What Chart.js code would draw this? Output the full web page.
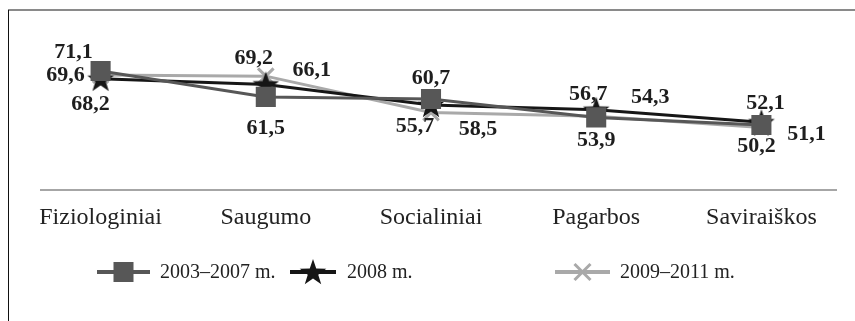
<!DOCTYPE html>
<html>
<head>
<meta charset="utf-8">
<script src="https://cdn.jsdelivr.net/npm/chart.js@4/dist/chart.umd.min.js"></script>
<style>
  html, body { margin: 0; padding: 0; background: #fff; }
  #wrap { position: relative; width: 855px; height: 321px; }
</style>
</head>
<body>
<div id="wrap"><canvas id="c" width="855" height="321"></canvas></div>
<script>
// Poreikių grupės (x ašis)
const categories = ['Fiziologiniai', 'Saugumo', 'Socialiniai', 'Pagarbos', 'Saviraiškos'];
// Laikotarpiai
const seriesNames = ['2003–2007 m.', '2008 m.', '2009–2011 m.'];
// Reikšmės pagal laikotarpį
const values2003to2007 = [71.1, 61.5, 60.7, 53.9, 51.1];
const values2008 = [68.2, 66.1, 58.5, 56.7, 52.1];
const values2009to2011 = [69.6, 69.2, 55.7, 54.3, 50.2];

// Reikšmių etikečių poslinkiai nuo taško (dx, dy)
const labelOffsets = [
  [[-27, -19], [0, 31], [0, -21], [0, 23], [45, 9]],
  [[-10, 25], [46, -14], [47, 24], [-8, -16], [4, -19]],
  [[-35, 0], [-12, -18], [-16, 14], [54, -19], [-5, 19]]
];

const SERIF = '"Liberation Serif", "Times New Roman", serif';
const colSquare = '#575757';
const colStar = '#161616';
const colCross = '#a9a9a9';

function makeStar(outer, inner, color) {
  const size = Math.ceil(outer * 2 + 2);
  const cv = document.createElement('canvas');
  cv.width = size; cv.height = size;
  const g = cv.getContext('2d');
  const cx = size / 2, cy = size / 2 + 1;
  g.beginPath();
  for (let i = 0; i < 10; i++) {
    const r = i % 2 === 0 ? outer : inner;
    const a = -Math.PI / 2 + i * Math.PI / 5;
    const px = cx + r * Math.cos(a), py = cy + r * Math.sin(a);
    if (i === 0) g.moveTo(px, py); else g.lineTo(px, py);
  }
  g.closePath();
  g.fillStyle = color;
  g.fill();
  return cv;
}
const starImg = makeStar(14, 5.5, colStar);

const fmt = v => v.toFixed(1).replace('.', ',');

function drawMarker(ctx, kind, x, y) {
  ctx.save();
  if (kind === 'rect') {
    ctx.fillStyle = colSquare;
    ctx.fillRect(x - 10, y - 10, 20, 20);
  } else if (kind === 'star') {
    ctx.drawImage(starImg, x - starImg.width / 2, y - starImg.height / 2);
  } else {
    ctx.strokeStyle = colCross;
    ctx.lineWidth = 3;
    const s = 8;
    ctx.beginPath();
    ctx.moveTo(x - s, y - s); ctx.lineTo(x + s, y + s);
    ctx.moveTo(x - s, y + s); ctx.lineTo(x + s, y - s);
    ctx.stroke();
  }
  ctx.restore();
}

const decor = {
  id: 'decor',
  beforeDraw(chart) {
    const ctx = chart.ctx;
    ctx.save();
    // rėmelis
    ctx.strokeStyle = '#8a8a8a';
    ctx.lineWidth = 2;
    ctx.beginPath(); ctx.moveTo(8, 10); ctx.lineTo(855, 10); ctx.stroke();
    ctx.strokeStyle = '#111';
    ctx.lineWidth = 1;
    ctx.beginPath(); ctx.moveTo(8.5, 10); ctx.lineTo(8.5, 321); ctx.stroke();
    // x ašies linija
    const yb = chart.chartArea.bottom;
    ctx.strokeStyle = '#a6a6a6';
    ctx.lineWidth = 2;
    ctx.beginPath(); ctx.moveTo(40, yb); ctx.lineTo(837, yb); ctx.stroke();
    ctx.restore();
  },
  afterDraw(chart) {
    const ctx = chart.ctx;
    ctx.save();
    // reikšmių etiketės
    ctx.font = 'bold 22px ' + SERIF;
    ctx.fillStyle = '#1e1e1e';
    ctx.textAlign = 'center';
    ctx.textBaseline = 'middle';
    chart.data.datasets.forEach((ds, di) => {
      const meta = chart.getDatasetMeta(di);
      meta.data.forEach((pt, i) => {
        const [dx, dy] = labelOffsets[di][i];
        ctx.fillText(fmt(ds.data[i]), pt.x + dx, pt.y + dy);
      });
    });
    // legenda
    const ly = 272;
    const items = [
      { x0: 97, x1: 150, tx: 160 },
      { x0: 290, x1: 336, tx: 347 },
      { x0: 555, x1: 610, tx: 620 }
    ];
    ctx.font = '20px ' + SERIF;
    ctx.textAlign = 'left';
    ctx.fillStyle = '#222';
    chart.data.datasets.forEach((ds, di) => {
      const it = items[di];
      ctx.strokeStyle = ds.borderColor;
      ctx.lineWidth = 4;
      ctx.beginPath(); ctx.moveTo(it.x0, ly); ctx.lineTo(it.x1, ly); ctx.stroke();
      drawMarker(ctx, ds.markerKind, (it.x0 + it.x1) / 2, ly);
      ctx.fillText(ds.label, it.tx, ly + 1);
    });
    ctx.restore();
  }
};

new Chart(document.getElementById('c'), {
  type: 'line',
  data: {
    labels: categories,
    datasets: [
      {
        label: seriesNames[0], data: values2003to2007, markerKind: 'rect',
        borderColor: colSquare, backgroundColor: colSquare, borderWidth: 3,
        pointStyle: 'rect', pointRadius: 14.2, pointBorderWidth: 0,
        pointBackgroundColor: colSquare, tension: 0
      },
      {
        label: seriesNames[1], data: values2008, markerKind: 'star',
        borderColor: colStar, backgroundColor: colStar, borderWidth: 3,
        pointStyle: starImg, pointRadius: 14, tension: 0
      },
      {
        label: seriesNames[2], data: values2009to2011, markerKind: 'cross',
        borderColor: colCross, backgroundColor: colCross, borderWidth: 3,
        pointStyle: 'crossRot', pointRadius: 11, pointBorderWidth: 3,
        pointBorderColor: colCross, tension: 0
      }
    ]
  },
  options: {
    responsive: false,
    animation: false,
    devicePixelRatio: 1,
    layout: { autoPadding: false, padding: { left: 18, right: 11, top: 20, bottom: 0 } },
    plugins: { legend: { display: false }, tooltip: { enabled: false } },
    scales: {
      x: {
        type: 'category',
        offset: true,
        grid: { display: false, drawTicks: false },
        border: { display: false },
        ticks: { font: { family: SERIF, size: 24 }, color: '#222', padding: 13, maxRotation: 0 },
        afterFit(s) { s.height = 131; s.paddingLeft = 0; s.paddingRight = 0; }
      },
      y: { display: false, min: 27, max: 90 }
    }
  },
  plugins: [decor]
});
</script>
</body>
</html>
